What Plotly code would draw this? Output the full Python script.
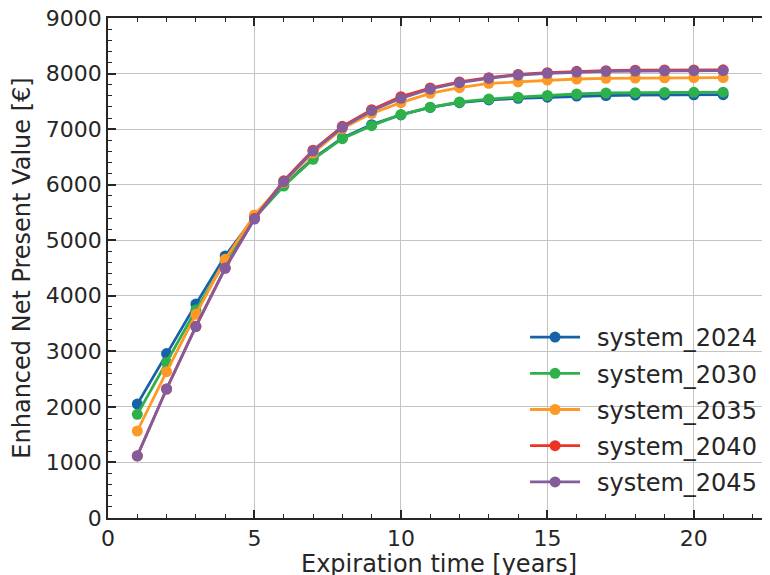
import plotly.graph_objects as go

years = list(range(1, 22))

system_2024 = [2050, 2960, 3850, 4716, 5420, 5990, 6470, 6840, 7080, 7255, 7390, 7475, 7525, 7555, 7575, 7595, 7605, 7612, 7616, 7618, 7620]
system_2030 = [1866, 2800, 3744, 4620, 5400, 5976, 6456, 6828, 7062, 7262, 7392, 7488, 7540, 7575, 7605, 7632, 7650, 7656, 7660, 7662, 7664]
system_2035 = [1566, 2634, 3666, 4656, 5454, 6040, 6570, 7010, 7284, 7476, 7644, 7746, 7824, 7850, 7884, 7902, 7914, 7920, 7924, 7926, 7928]
system_2040 = [1120, 2322, 3450, 4500, 5390, 6070, 6620, 7050, 7350, 7584, 7740, 7850, 7925, 7985, 8016, 8040, 8052, 8060, 8064, 8066, 8068]
system_2045 = [1116, 2322, 3444, 4494, 5382, 6054, 6606, 7032, 7332, 7554, 7722, 7836, 7914, 7974, 8004, 8028, 8040, 8046, 8050, 8052, 8054]

names = ["system_2024", "system_2030", "system_2035", "system_2040", "system_2045"]
series = [system_2024, system_2030, system_2035, system_2040, system_2045]
colors = ["#1761a9", "#2eb14b", "#fd9a27", "#ec3324", "#845c9c"]

x_ticks = [0, 5, 10, 15, 20]
y_ticks = [0, 1000, 2000, 3000, 4000, 5000, 6000, 7000, 8000, 9000]
x_title = "Expiration time [years]"
y_title = "Enhanced Net Present Value [€]"

fig = go.Figure()
for i, (name, vals, col) in enumerate(zip(names, series, colors)):
    fig.add_trace(go.Scatter(
        x=years, y=vals, name="\u2002" + name, mode="lines+markers",
        line=dict(color=col, width=2.8),
        marker=dict(color=col, size=11, symbol="circle"),
        legendgroup=name,
    ))

font_family = "DejaVu Sans"
txt = "#262626"
fs = 22

fig.update_layout(
    width=770, height=575,
    margin=dict(l=100, r=8, t=10, b=65, autoexpand=False),
    paper_bgcolor="white", plot_bgcolor="white",
    font=dict(family=font_family, size=fs, color=txt),
    showlegend=True,
    legend=dict(
        x=0.630, y=0.406, xanchor="left", yanchor="top",
        bgcolor="rgba(0,0,0,0)", font=dict(size=24, color=txt),
        traceorder="grouped", tracegroupgap=2, itemwidth=50,
    ),
    xaxis=dict(
        range=[0, 22.6], tickvals=x_ticks, ticktext=[str(v) for v in x_ticks],
        ticks="inside", ticklen=8, tickwidth=1.5, tickcolor=txt,
        showline=True, linecolor=txt, linewidth=1.5, mirror="ticks",
        showgrid=True, gridcolor="#c4c4c4", gridwidth=1.3,
        zeroline=False, automargin=False, ticklabeloverflow="allow",
        minor=dict(dtick=1, ticks="inside", ticklen=4, tickwidth=1.2, tickcolor=txt, showgrid=False),
        tickfont=dict(size=fs),
    ),
    yaxis=dict(
        range=[0, 9000], tickvals=y_ticks, ticktext=[str(v) for v in y_ticks],
        ticks="inside", ticklen=8, tickwidth=1.5, tickcolor=txt,
        showline=True, linecolor=txt, linewidth=1.5,
        showgrid=True, gridcolor="#c4c4c4", gridwidth=1.3,
        zeroline=False, automargin=False, ticklabeloverflow="allow",
        minor=dict(dtick=200, ticks="inside", ticklen=4, tickwidth=1.2, tickcolor=txt, showgrid=False),
        title=dict(text=y_title, font=dict(size=24), standoff=8),
        tickfont=dict(size=fs),
    ),
    annotations=[dict(
        text=x_title, xref="paper", yref="paper", x=0.5, y=-0.091,
        xanchor="center", yanchor="middle", showarrow=False,
        font=dict(size=24, color=txt, family=font_family),
    )],
)

fig.write_html("out.html")
